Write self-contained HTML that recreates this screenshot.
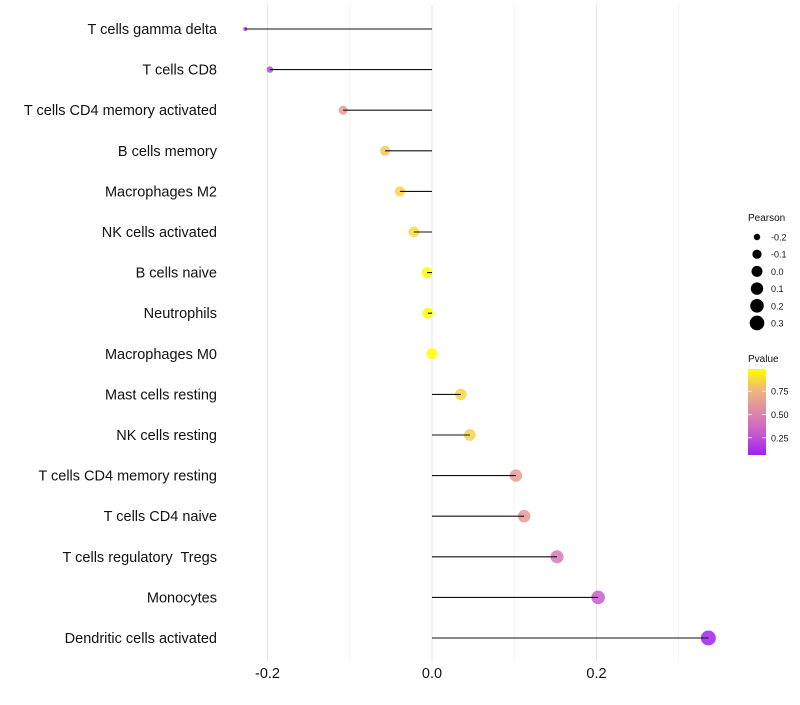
<!DOCTYPE html>
<html><head><meta charset="utf-8"><style>
html,body{margin:0;padding:0;background:#fff;}
svg text{font-family:"Liberation Sans",Arial,sans-serif;white-space:pre;}
</style></head><body>
<svg id="chart" width="800" height="700" viewBox="0 0 800 700" xmlns="http://www.w3.org/2000/svg">
<defs>
<linearGradient id="pgrad" x1="0" y1="1" x2="0" y2="0">
<stop offset="0" stop-color="#A020F0"/>
<stop offset="0.25" stop-color="#C85AD0"/>
<stop offset="0.5" stop-color="#DF88A8"/>
<stop offset="0.75" stop-color="#F0B47C"/>
<stop offset="1" stop-color="#FFFF00"/>
</linearGradient>
</defs>
<g id="grid"></g>
<g id="marks"></g>
<g id="ylabels"></g>
<g id="xlabels"></g>
<g id="legend-size"></g>
<g id="legend-color"></g>
</svg>
<script>
const categories = ["T cells gamma delta","T cells CD8","T cells CD4 memory activated","B cells memory","Macrophages M2","NK cells activated","B cells naive","Neutrophils","Macrophages M0","Mast cells resting","NK cells resting","T cells CD4 memory resting","T cells CD4 naive","T cells regulatory  Tregs","Monocytes","Dendritic cells activated"];
const pearson = [-0.227,-0.197,-0.108,-0.057,-0.039,-0.022,-0.006,-0.005,0.0,0.035,0.046,0.102,0.112,0.152,0.202,0.336];
const pvalue = [0.12,0.22,0.62,0.82,0.86,0.88,0.98,0.98,0.99,0.87,0.85,0.63,0.62,0.45,0.3,0.07];
const xTicks = [-0.2,0.0,0.2];
const xTickLabels = ["-0.2","0.0","0.2"];
const xGrid = [-0.2,-0.1,0.0,0.1,0.2,0.3];
const sizeLegend = [-0.2,-0.1,0.0,0.1,0.2,0.3];
const sizeLegendLabels = ["-0.2","-0.1","0.0","0.1","0.2","0.3"];
const colorTicks = [0.75,0.50,0.25];
const colorTickLabels = ["0.75","0.50","0.25"];

const NS="http://www.w3.org/2000/svg";
function mk(tag,attrs,parent){const e=document.createElementNS(NS,tag);for(const k in attrs)e.setAttribute(k,attrs[k]);parent.appendChild(e);return e;}
const x = v => 432 + v*822.5;
const y = i => 29 + i*40.6;
const r = v => 2 + 5.5*Math.sqrt(Math.max(0,(v+0.227)/0.563));
const stops=[[0,[160,32,240]],[0.25,[200,90,208]],[0.5,[223,136,168]],[0.75,[240,180,124]],[1,[255,255,0]]];
function pcol(p){let t=(p-0.065)/(0.989-0.065);t=Math.max(0,Math.min(1,t));
 for(let i=0;i<stops.length-1;i++){const a=stops[i],b=stops[i+1];if(t<=b[0]){const f=(t-a[0])/(b[0]-a[0]);const c=a[1].map((v,j)=>Math.round(v+(b[1][j]-v)*f));return "rgb("+c.join(",")+")";}}
 return "rgb(255,255,0)";}

const grid=document.getElementById('grid');
xGrid.forEach(g=>{const major=xTicks.some(t=>Math.abs(t-g)<1e-9);
 const l=mk('line',{x1:x(g),x2:x(g),y1:5,y2:662,stroke:major?'#e6e6e6':'#f0f0f0','stroke-width':major?1:0.8},grid);
 
 });

const marks=document.getElementById('marks');
categories.forEach((c,i)=>{
 const g=mk('g',{},marks);
 
 
 const pt=mk('circle',{cx:x(pearson[i]),cy:y(i),r:r(pearson[i]),fill:pcol(pvalue[i]),'fill-opacity':0.85},g);
 
 
 const ln=mk('line',{x1:x(0),x2:x(pearson[i]),y1:y(i),y2:y(i),stroke:'#111','stroke-width':1.1},g);
 
 
});

const yl=document.getElementById('ylabels');
categories.forEach((c,i)=>{const t=mk('text',{x:217,y:y(i)+5,'text-anchor':'end','font-size':14.5,fill:'#111'},yl);t.textContent=c;
 
 });

const xl=document.getElementById('xlabels');
xTicks.forEach((v,i)=>{const t=mk('text',{x:x(v),y:678,'text-anchor':'middle','font-size':14.5,fill:'#111'},xl);t.textContent=xTickLabels[i];
 
 });

const ls=document.getElementById('legend-size');
const st=mk('text',{x:748,y:221,'font-size':10,fill:'#111'},ls);st.textContent='Pearson';


sizeLegend.forEach((v,i)=>{const cy=237+i*17.2;
 const c=mk('circle',{cx:757,cy:cy,r:Math.max(2.3,r(v)),fill:'#000'},ls);
 
 
 const t=mk('text',{x:771,y:cy+3.5,'font-size':9,fill:'#111'},ls);t.textContent=sizeLegendLabels[i];
 
 });

const lc=document.getElementById('legend-color');
const ct=mk('text',{x:748,y:362,'font-size':10,fill:'#111'},lc);ct.textContent='Pvalue';


const bar=mk('rect',{x:748,y:369,width:18,height:86,fill:'url(#pgrad)'},lc);


const cb = p => 369 + (0.989-p)/(0.989-0.065)*86;
colorTicks.forEach((p,i)=>{
 mk('line',{x1:748,x2:752,y1:cb(p),y2:cb(p),stroke:'#fff','stroke-width':0.8},lc);
 mk('line',{x1:762,x2:766,y1:cb(p),y2:cb(p),stroke:'#fff','stroke-width':0.8},lc);
 const t=mk('text',{x:771,y:cb(p)+3.5,'font-size':9,fill:'#111'},lc);t.textContent=colorTickLabels[i];
 
 });
</script>
</body></html>
